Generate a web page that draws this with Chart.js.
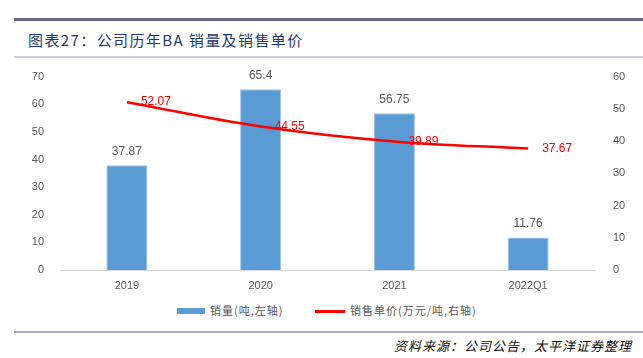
<!DOCTYPE html>
<html lang="zh">
<head>
<meta charset="UTF-8">
<title>公司历年BA销量及销售单价</title>
<script src="https://cdn.jsdelivr.net/npm/chart.js"></script>
<style>
  body { margin:0; width:643px; height:358px; background:#fff; position:relative; overflow:hidden;
         font-family:"Noto Sans CJK SC", sans-serif; }
  .rule-top { position:absolute; left:14px; right:0; top:18px; height:3px; background:#66668f; }
  .title { position:absolute; left:28px; top:29px; font-size:15px; color:#1f3a6e; letter-spacing:1.4px; }
  .rule-mid { position:absolute; left:14px; right:0; top:56px; height:2px; background:#cfcfe0; }
  .chart-box { position:absolute; left:0; top:60px; width:643px; height:240px; }
  .legend { position:absolute; top:302px; left:0; width:643px; font-size:11px; color:#595959; letter-spacing:1px; }
  .legend span { position:absolute; top:0; white-space:nowrap; }
  .swatch-bar { position:absolute; width:28px; height:6px; background:#5b9bd5; }
  .swatch-line { position:absolute; width:30px; height:3px; background:#ff0000; }
  .rule-bot { position:absolute; left:14px; right:0; top:331px; height:2px; background:#a9a9cc; }
  .source { position:absolute; right:11px; top:336px; font-size:13px; font-style:italic; color:#111; letter-spacing:1px; }
</style>
</head>
<body>
<div class="rule-top"></div>
<div class="title">图表27：公司历年BA 销量及销售单价</div>
<div class="rule-mid"></div>
<div class="chart-box"><canvas id="c" width="643" height="240"></canvas></div>
<div class="legend">
  <div class="swatch-bar" style="left:177px; top:6px;"></div>
  <span style="left:210px;">销量(吨,左轴)</span>
  <div class="swatch-line" style="left:315px; top:8px;"></div>
  <span style="left:350px;">销售单价(万元/吨,右轴)</span>
</div>
<div class="rule-bot"></div>
<div class="source">资料来源：公司公告，太平洋证券整理</div>

<script>
const years = ['2019', '2020', '2021', '2022Q1'];
const volume = [37.87, 65.4, 56.75, 11.76];   // 吨
const price = [52.07, 44.55, 39.89, 37.67];   // 万元/吨

// draw value labels on bars and line points
const valueLabels = {
  id: 'valueLabels',
  afterDatasetsDraw(chart) {
    const ctx = chart.ctx;
    ctx.save();
    ctx.font = '12px "Liberation Sans", Arial, sans-serif';
    ctx.textBaseline = 'middle';
    chart.data.datasets.forEach((ds, i) => {
      const meta = chart.getDatasetMeta(i);
      meta.data.forEach((el, j) => {
        if (ds.type === 'bar') {
          ctx.fillStyle = '#595959';
          ctx.textAlign = 'center';
          ctx.fillText(ds.data[j], el.x, el.y - 14);
        } else {
          ctx.fillStyle = '#ff0000';
          ctx.textAlign = 'left';
          ctx.fillText(ds.data[j], el.x + 14, el.y);
        }
      });
    });
    ctx.restore();
  }
};

const tickFont = { family: '"Liberation Sans", Arial, sans-serif', size: 11 };

new Chart(document.getElementById('c'), {
  data: {
    labels: years,
    datasets: [
      {
        type: 'line', label: '销售单价(万元/吨,右轴)', data: price, yAxisID: 'y1',
        borderColor: '#ff0000', borderWidth: 2.5, pointRadius: 0, tension: 0.4, order: 0
      },
      {
        type: 'bar', label: '销量(吨,左轴)', data: volume, yAxisID: 'y',
        backgroundColor: '#5b9bd5', borderColor: '#9cc2e8', borderWidth: 1,
        categoryPercentage: 1, barPercentage: 0.307, order: 1
      }
    ]
  },
  options: {
    responsive: false,
    animation: false,
    layout: { padding: { top: 10, left: 0, right: 0, bottom: 0 } },
    plugins: { legend: { display: false }, tooltip: { enabled: false } },
    scales: {
      x: {
        grid: { display: false },
        border: { color: '#d9d9d9', width: 1 },
        ticks: { color: '#595959', font: tickFont, padding: 1 },
        afterFit(s) { s.height = 30; }
      },
      y: {
        position: 'left', min: 0, max: 70,
        grid: { display: false }, border: { display: false },
        ticks: { stepSize: 10, color: '#595959', font: tickFont, padding: 8 },
        afterFit(s) { s.width = 60; }
      },
      y1: {
        position: 'right', min: 0, max: 60,
        grid: { display: false }, border: { display: false },
        ticks: { stepSize: 10, color: '#595959', font: tickFont, padding: 10 },
        afterFit(s) { s.width = 48; }
      }
    }
  },
  plugins: [valueLabels]
});
</script>
</body>
</html>
